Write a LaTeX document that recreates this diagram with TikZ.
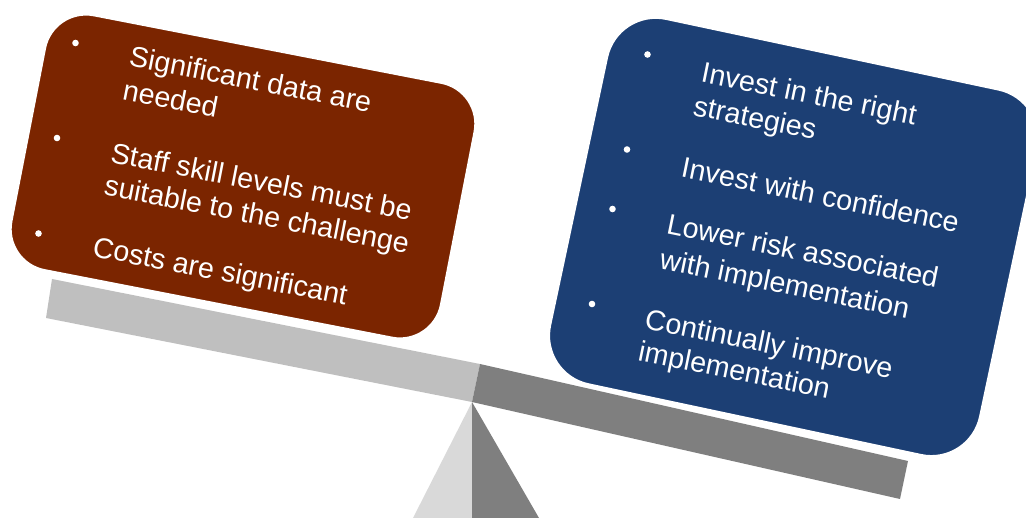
\documentclass[tikz,border=0pt]{standalone}
\usepackage{fontspec}
\setmainfont{Liberation Sans}
\usepackage{tikz}
\usetikzlibrary{shapes,arrows}

\definecolor{costbrown}{RGB}{123,37,0}
\definecolor{gainblue}{RGB}{28,63,116}
\definecolor{beamlight}{RGB}{191,191,191}
\definecolor{beamdark}{RGB}{127,127,127}
\definecolor{baselight}{RGB}{217,217,217}

\tikzset{
  txt/.style={anchor=base west, inner sep=0pt, text=white,
    font=\fontsize{28.7}{34}\selectfont},
  lefttxt/.style={txt, rotate=-11},
  righttxt/.style={txt, rotate=-11.5},
  board/.style={draw=white, line width=2.5pt}
}

\begin{document}
\begin{tikzpicture}[x=1pt,y=-1pt]
  %\draw[step=100pt,gray,very thin] (0,0) grid (1026,518);
  \useasboundingbox (0,0) rectangle (1026,518);
  \clip (0,0) rectangle (1026,518);

  % beam
  \fill[beamlight] (52,279) -- (480,364) -- (472,402) -- (46,318) -- cycle;
  \fill[beamdark] (480,364) -- (908,461) -- (900,499) -- (472,402) -- cycle;

  % fulcrum
  \fill[baselight] (472,402) -- (413,518) -- (472,518) -- cycle;
  \fill[beamdark] (472,402) -- (472,518) -- (539,518) -- cycle;

  % left board
  \begin{scope}[shift={(243,176.5)},rotate=-11]
    \draw[board,fill=costbrown,rounded corners=42pt] (-219,-130) rectangle (219,130);
  \end{scope}

  \fill[white] (75.5,43) circle (3.3pt);
  \fill[white] (57,138) circle (3.3pt);
  \fill[white] (38.5,233.5) circle (3.3pt);

  \node[lefttxt] (sig1) at (128,65.5) {Significant data are};
  \node[lefttxt] (sig2) at (121.5,99) {needed};
  \node[lefttxt] (staff1) at (109.5,162) {Staff skill levels must be};
  \node[lefttxt] (staff2) at (103,194.5) {suitable to the challenge};
  \node[lefttxt] (cost1) at (91.5,256) {Costs are significant};

  % right board
  \begin{scope}[shift={(794,235)},rotate=-12]
    \draw[board,fill=gainblue,rounded corners=50pt] (-220,-185) rectangle (220,189);
  \end{scope}

  \fill[white] (647.5,54.5) circle (3.3pt);
  \fill[white] (627,149.5) circle (3.3pt);
  \fill[white] (612.5,209) circle (3.3pt);
  \fill[white] (592,304) circle (3.3pt);

  \node[righttxt] (inv1) at (700,81.5) {Invest in the right};
  \node[righttxt] (inv2) at (692,115) {strategies};
  \node[righttxt] (conf1) at (680,176.5) {Invest with confidence};
  \node[righttxt] (risk1) at (665.5,233) {Lower risk associated};
  \node[righttxt] (risk2) at (658.5,268) {with implementation};
  \node[righttxt] (impr1) at (643.5,328) {Continually improve};
  \node[righttxt] (impr2) at (637,360) {implementation};

\end{tikzpicture}
\end{document}
